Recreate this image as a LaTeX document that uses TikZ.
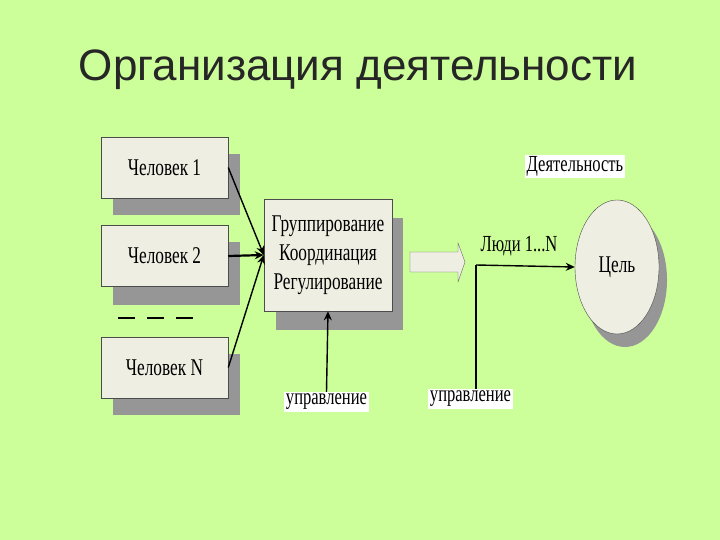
\documentclass[tikz,border=0pt]{standalone}
\usepackage{fontspec}
\setmainfont{Liberation Serif}
\newfontfamily\titlefont{Liberation Sans}
\usetikzlibrary{shapes.geometric,arrows.meta}
\definecolor{bg}{RGB}{204,255,153}
\definecolor{boxfill}{RGB}{238,238,226}
\definecolor{shad}{RGB}{150,150,150}
\newcommand{\cond}[1]{\scalebox{0.72}[1]{#1}}
\tikzset{
  box/.style={draw=black!70,fill=boxfill,line width=0.5pt,minimum width=127pt,minimum height=61pt,inner sep=0pt,font=\fontsize{24}{29}\selectfont,align=center},
  lbl/.style={fill=white,inner sep=2pt,font=\fontsize{23}{26}\selectfont},
  con/.style={line width=1.4pt,-{Stealth[length=9pt,width=8pt]}}
}
\begin{document}
\begin{tikzpicture}[x=1pt,y=-1pt]
\fill[bg] (0,0) rectangle (720,540);
\useasboundingbox (0,0) rectangle (720,540);
\node[font=\titlefont\fontsize{44}{48}\selectfont,text=black!85] (title) at (358,70) {Организация деятельности};
% shadows
\fill[shad] (113,154) rectangle (240,215);
\fill[shad] (113,242) rectangle (240,305);
\fill[shad] (113,354) rectangle (240,415);
\fill[shad] (276,218) rectangle (403,330);
\fill[shad] (625,280) ellipse (42 and 67);
% boxes
\node[box] (p1) at (164.5,167.5) {\cond{Человек 1}};
\node[box] (p2) at (164.5,256) {\cond{Человек 2}};
\node[box] (pn) at (164.5,367.5) {\cond{Человек N}};
\node[box,minimum width=128pt,minimum height=112pt] (c) at (328,255) {\cond{Группирование}\\\cond{Координация}\\\cond{Регулирование}};
\draw[line width=1.3pt,dash pattern=on 17pt off 12pt] (118,318) -- (198,318);
\draw[con] (p1.east) -- (c.west);
\draw[con,line width=2.2pt] (p2.east) -- (c.west);
\draw[con] (pn.east) -- (c.west);
% hollow arrow
\draw[draw=black!60,fill=boxfill] (410,252) -- (458,252) -- (458,243) -- (465,262) -- (458,282) -- (458,272) -- (410,272) -- cycle;
% ellipse
\node[draw=black!70,fill=boxfill,ellipse,minimum width=84pt,minimum height=134pt,inner sep=0pt,font=\fontsize{24}{29}\selectfont] (goal) at (617,267) {\cond{Цель}};
\node[lbl] (act) at (575,166.5) {\cond{Деятельность}};
\node[font=\fontsize{23}{26}\selectfont] (people) at (519,246) {\cond{Люди 1...N}};
\coordinate (j) at (476,265);
\node[lbl] (u2) at (470.5,399) {\cond{управление}};
\draw[line width=1.4pt] (u2.north -| j) -- (j);
\draw[con] (j) -- (goal.west);
\node[lbl] (u1) at (326.5,402) {\cond{управление}};
\draw[con] (u1.north) -- (c.south);
\end{tikzpicture}
\end{document}
